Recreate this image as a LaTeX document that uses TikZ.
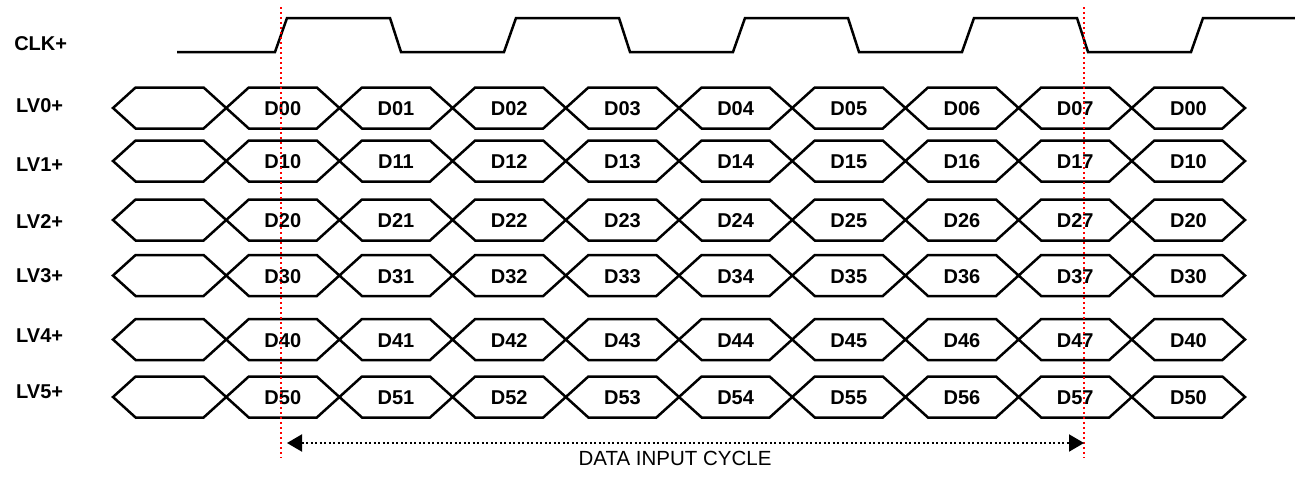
\documentclass[tikz,border=0pt]{standalone}
\usepackage{fontspec}
\setmainfont{Liberation Sans}
\usetikzlibrary{arrows.meta}
\begin{document}
\begin{tikzpicture}[x=1pt,y=-1pt,line width=2.5pt,
    sig/.style={font=\fontsize{20}{24}\selectfont\bfseries,anchor=west,inner sep=0pt},
    dat/.style={font=\fontsize{20}{24}\selectfont\bfseries,inner sep=0pt},
    redmark/.style={red,line width=2pt,dash pattern=on 2pt off 3pt},
    cycarrow/.style={line width=2pt,dash pattern=on 2pt off 2.5pt,
      {Triangle[length=15pt,width=17pt]}-{Triangle[length=15pt,width=17pt]}}]
  \useasboundingbox (0,0) rectangle (1295,477);
  \node[sig] (clk) at (13,44) {CLK+};
  \draw (177,52) \foreach \k in {0,...,3}{ -- ({275+229*\k},52) -- ({287+229*\k},18)
      -- ({390+229*\k},18) -- ({401+229*\k},52)} -- (1191,52) -- (1203,18) -- (1295,18);

  \foreach \j/\y/\ly in {0/108/106,1/161/165,2/220/222,3/275.5/276,4/339.5/336,5/397/392}{
    \node[sig] (lv\j) at (15,\ly) {LV\j+};
    \foreach \i in {0,...,9}{
      \pgfmathsetmacro\xa{113+113.2*\i}
      \pgfmathtruncatemacro\k{mod(\i+7,8)}
      \draw (\xa,\y) -- ++(22.6,-20.5) -- ++(68,0) -- ++(22.6,20.5)
        -- ++(-22.6,20.5) -- ++(-68,0) -- cycle;
      \ifnum\i>0 \node[dat] (d\j\i) at (\xa+56.6,\y+1) {D\j\k}; \fi
    }
  }

  \coordinate (mkAtop) at (281,7);
  \coordinate (mkAbot) at (281,458);
  \coordinate (mkBtop) at (1084,7);
  \coordinate (mkBbot) at (1084,458);
  \draw[redmark] (mkAtop) -- (mkAbot);
  \draw[redmark] (mkBtop) -- (mkBbot);

  \coordinate (cycL) at (287,443);
  \coordinate (cycR) at (1084,443);
  \draw[cycarrow] (cycL) -- (cycR);
  \node[font=\fontsize{20.5}{24}\selectfont,inner sep=0pt] (cyctext) at (675,458.5) {DATA INPUT CYCLE};
\end{tikzpicture}
\end{document}
